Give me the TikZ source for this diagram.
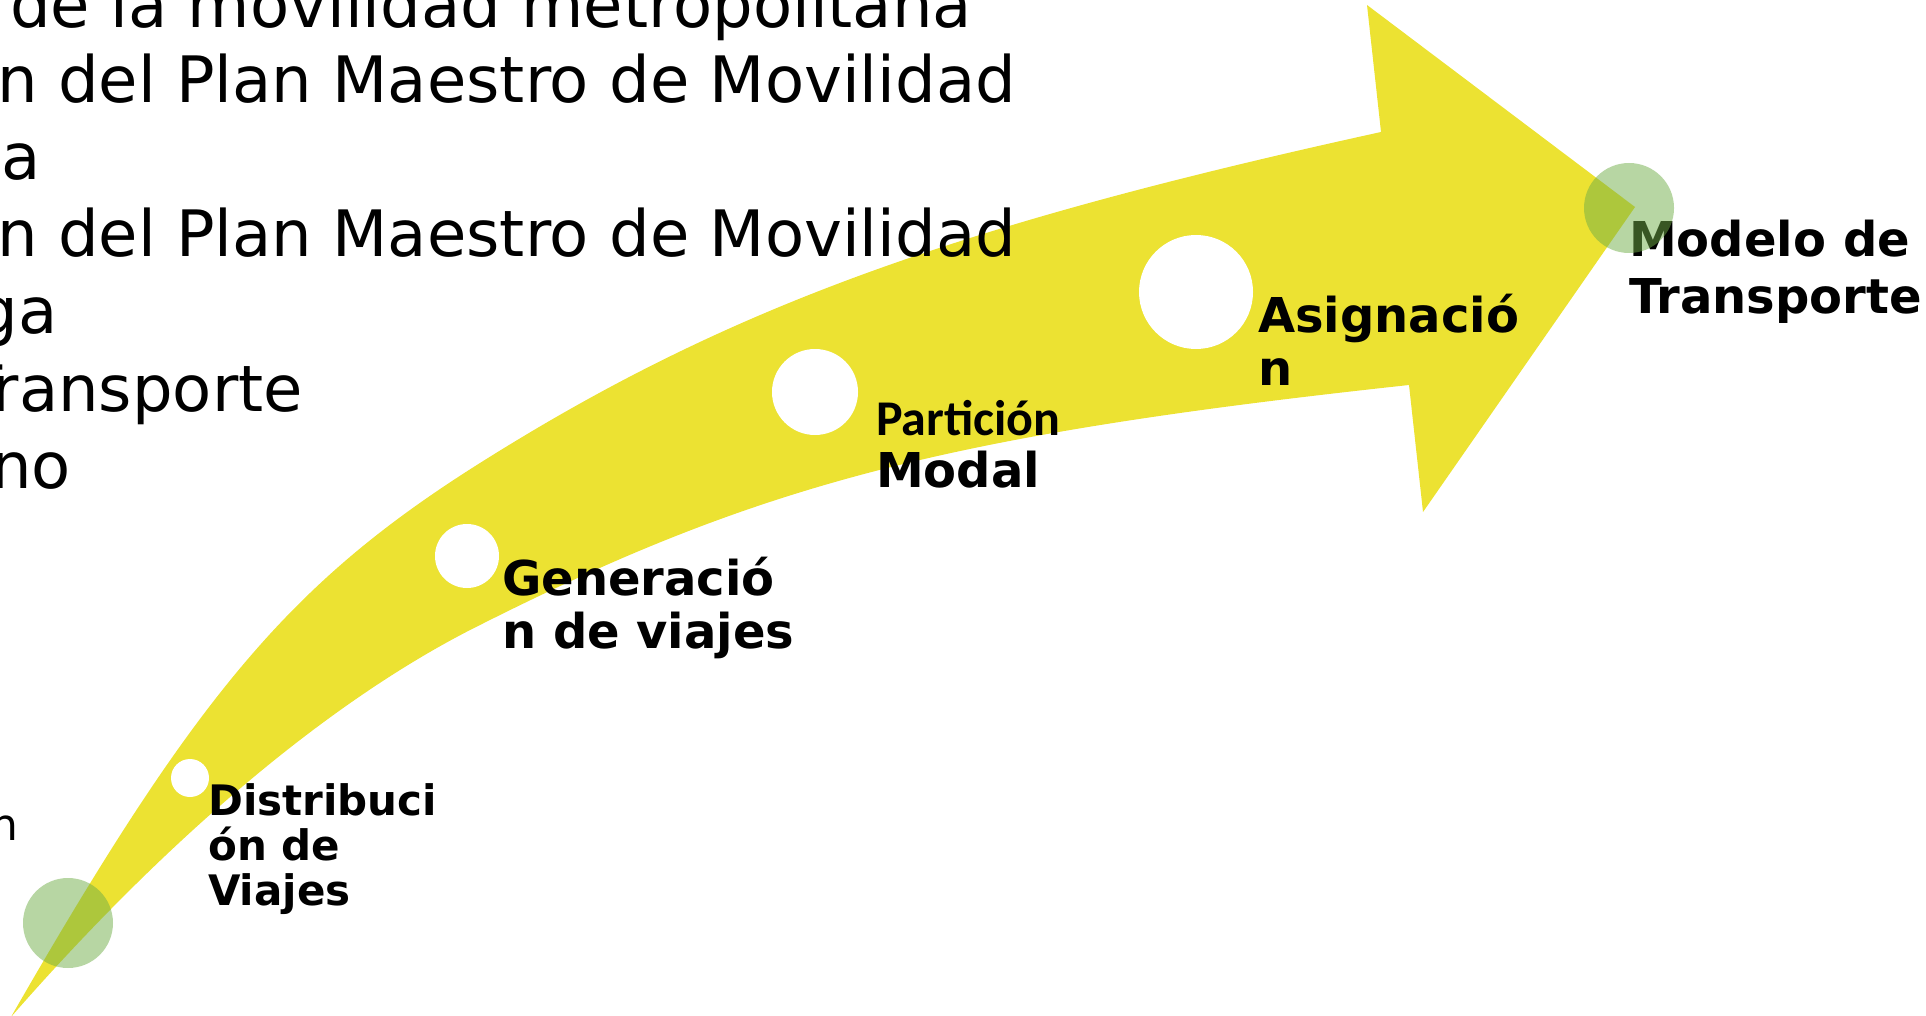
\documentclass[tikz,border=0pt]{standalone}
\usepackage{fontspec}
\setmainfont{DejaVu Sans}
\newfontfamily\calibrifont{Carlito}
\usepackage{xcolor}
\usepackage{tikz}

\definecolor{arrowyellow}{RGB}{236,226,50}
\definecolor{stagegreen}{RGB}{112,173,71}

\begin{document}
\begin{tikzpicture}[
		x=1pt, y=-1pt,
		hole/.style={
			circle,
			fill=white,
			inner sep=0pt
		},
		endpoint/.style={
			circle,
			fill=stagegreen,
			fill opacity=0.5,
			inner sep=0pt,
			minimum size=90pt
		},
		stagetext/.style={
			anchor=base west,
			align=left,
			inner sep=0pt,
			font=\bfseries\fontsize{48}{53}\selectfont
		},
		bgtext/.style={
			anchor=base east,
			inner sep=0pt,
			font=\fontsize{64}{76}\selectfont
		}
		]
		
		\clip (0,0) rectangle (1926,1016);
		
		% Curved arrow
		\fill[arrowyellow] (11,1017)
			.. controls (197,693) and (291,582) .. (480,463)
			.. controls (723,310) and (948,227) .. (1381,132)
			-- (1367,5) -- (1635,207) -- (1423,512) -- (1409,385)
			.. controls (948,435) and (762,483) .. (480,625)
			.. controls (333,698) and (170,835) .. (11,1017)
			-- cycle;
		
		% Background text (cut at the left edge)
		\node[bgtext] (bgone) at (972,28) {de la movilidad metropolitana};
		\node[bgtext] (bgtwo) at (1016,103) {n del Plan Maestro de Movilidad};
		\node[bgtext] (bgthree) at (41,180) {a};
		\node[bgtext] (bgfour) at (1016,257) {n del Plan Maestro de Movilidad};
		\node[bgtext] (bgfive) at (58,333) {ga};
		\node[bgtext] (bgsix) at (303,411) {Transporte};
		\node[bgtext] (bgseven) at (71,488) {no};
		\node[bgtext, font=\fontsize{44}{50}\selectfont] (bgeight) at (19,840) {n};
		
		% Stage holes
		\node[hole, minimum size=38pt] (distdot) at (190,778) {};
		\node[hole, minimum size=64pt] (gendot) at (467,556) {};
		\node[hole, minimum size=86pt] (partdot) at (815,392) {};
		\node[hole, minimum size=114pt] (asigdot) at (1196,292) {};
		
		% Stage labels (base = last line)
		\node[stagetext, font=\bfseries\fontsize{42}{45}\selectfont] (distlabel) at (208,905) {
			Distribuci\\
			ón de\\
			Viajes
		};
		\node[stagetext] (genlabel) at (502,648) {
			Generació\\
			n de viajes
		};
		\node[stagetext, font=\calibrifont\bfseries\fontsize{50}{52}\selectfont] (partlabel) at (876,435) {Partición};
		\node[stagetext] (modallabel) at (876,487) {Modal};
		\node[stagetext] (asiglabel) at (1258,385) {
			Asignació\\
			n
		};
		\node[stagetext, font=\bfseries\fontsize{48}{57}\selectfont] (modellabel) at (1629,313) {
			Modelo de\\
			Transporte
		};
		
		% Start and end points
		\node[endpoint] (origin) at (68,923) {};
		\node[endpoint] (goal) at (1629,208) {};
		
	\end{tikzpicture}
\end{document}
